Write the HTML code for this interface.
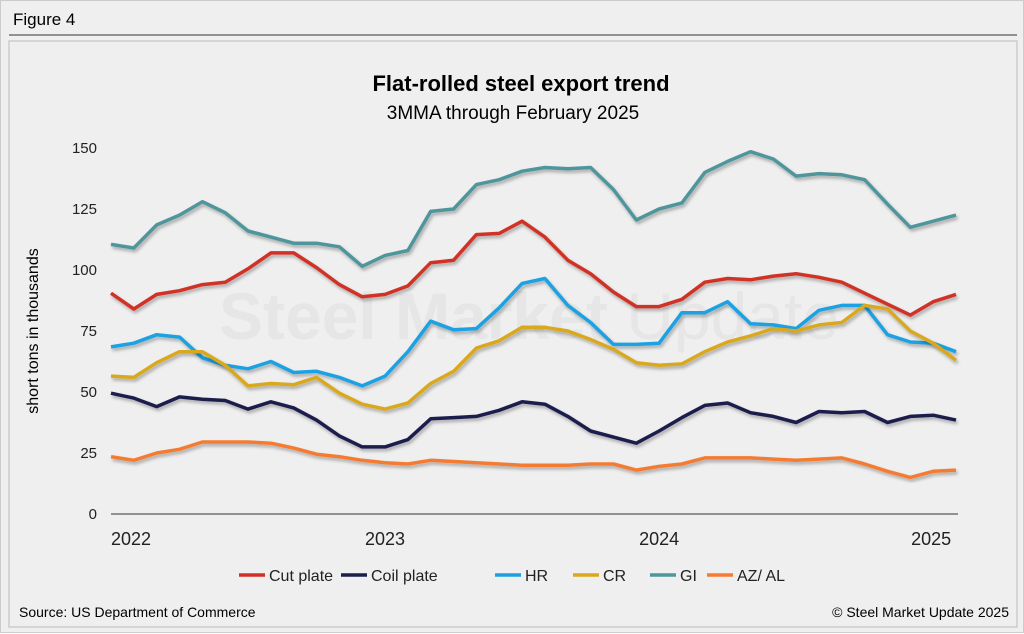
<!DOCTYPE html>
<html><head><meta charset="utf-8"><style>
body{margin:0;width:1024px;height:633px;background:#fff;font-family:"Liberation Sans",Arial,sans-serif;overflow:hidden}
#wrap{position:absolute;left:0;top:0;width:1022px;height:631px;border:1px solid #ccc;background:#efefef}
</style></head><body>
<div id="wrap">
<svg width="1024" height="633" style="position:absolute;left:0;top:0">
<defs><filter id="sh" x="-5%" y="-5%" width="110%" height="120%"><feDropShadow dx="1.5" dy="2.5" stdDeviation="1.5" flood-color="#000" flood-opacity="0.3"/></filter></defs>
<text x="12" y="24" font-size="17" fill="#000">Figure 4</text>
<line x1="8" y1="34" x2="1016" y2="34" stroke="#333" stroke-width="1"/>
<rect x="8" y="40" width="1008" height="586" fill="none" stroke="#bbb"/>
<text x="520" y="90" text-anchor="middle" font-size="22" font-weight="bold">Flat-rolled steel export trend</text>
<text x="512" y="118" text-anchor="middle" font-size="19">3MMA through February 2025</text>
<text x="218" y="338" font-size="66" fill="#e6e6e6"><tspan font-weight="bold">Steel Market</tspan> Update</text>
<text transform="translate(37,330) rotate(-90)" text-anchor="middle" font-size="16">short tons in thousands</text>
<g id="yt"></g><g id="xt"></g><g id="series"></g>
<line x1="110" y1="513" x2="957" y2="513" stroke="#333" stroke-width="1"/>
<g id="legend"></g>
<text x="18" y="616" font-size="14">Source: US Department of Commerce</text>
<text x="1008" y="616" text-anchor="end" font-size="14">© Steel Market Update 2025</text>
</svg></div>
<script>
const yTicks=[0,25,50,75,100,125,150];
const xLabels=["2022","2023","2024","2025"];
const seriesNames=["Cut plate","Coil plate","HR","CR","GI","AZ/ AL"];
const seriesColors=["#d03027","#1a1f4d","#1ba1e2","#d9a81c","#4f969c","#f47b30"];
const cutPlate=[90.5,84,90,91.5,94,95,100.5,107,107,101,94,89,90,93.5,103,104,114.5,115,120,113.5,104,98.5,91,85,85,88,95,96.5,96,97.5,98.5,97,95,90.5,86,81.5,87,90];
const coilPlate=[49.5,47.5,44,48,47,46.5,43,46,43.5,38.5,32,27.5,27.5,30.5,39,39.5,40,42.5,46,45,40,34,31.5,29,34,39.5,44.5,45.5,41.5,40,37.5,42,41.5,42,37.5,40,40.5,38.5];
const hr=[68.5,70,73.5,72.5,64,61,59.5,62.5,58,58.5,56,52.5,56.5,66.5,79,75.5,76,84.5,94.5,96.5,85.5,78.5,69.5,69.5,70,82.5,82.5,87,78,77.5,76,83.5,85.5,85.5,73.5,70.5,70,66.5];
const cr=[56.5,56,62,66.5,66.5,61,52.5,53.5,53,56,49.5,45,43,45.5,53.5,58.5,68,71,76.5,76.5,75,71.5,67.5,62,61,61.5,66.5,70.5,73,76,75,77.5,78.5,85.5,84,75,70,63];
const gi=[110.5,109,118.5,122.5,128,123.5,116,113.5,111,111,109.5,101.5,106,108,124,125,135,137,140.5,142,141.5,142,133,120.5,125,127.5,140,144.5,148.5,145.5,138.5,139.5,139,137,127,117.5,120,122.5];
const azal=[23.5,22,25,26.5,29.5,29.5,29.5,29,27,24.5,23.5,22,21,20.5,22,21.5,21,20.5,20,20,20,20.5,20.5,18,19.5,20.5,23,23,23,22.5,22,22.5,23,20.5,17.5,15,17.5,18];
const NS="http://www.w3.org/2000/svg";
const X=i=>110+i*(845/37), Y=v=>513-v*2.44;
const mk=(t,a,p)=>{const e=document.createElementNS(NS,t);for(const k in a)e.setAttribute(k,a[k]);p.appendChild(e);return e;};
const yt=document.getElementById('yt');
yTicks.forEach(v=>{const t=mk('text',{x:96,y:Y(v)+5,'text-anchor':'end','font-size':15,fill:'#222'},yt);t.textContent=v;

});
const xt=document.getElementById('xt');
xLabels.forEach((s,k)=>{const i=k*12;const t=mk('text',{x:X(i)+(k==3?-2:0),y:544,'text-anchor':k==0?'start':'middle','font-size':18,fill:'#222'},xt);t.textContent=s;

});
const data=[cutPlate,coilPlate,hr,cr,gi,azal];
const sg=document.getElementById('series');
[4,0,2,3,1,5].forEach(s=>{const pts=data[s].map((v,i)=>X(i).toFixed(1)+','+Y(v).toFixed(1)).join(' ');
const l=mk('polyline',{points:pts,fill:'none',stroke:seriesColors[s],'stroke-width':3.5,'stroke-linejoin':'round',filter:'url(#sh)'},sg);

});
const lg=document.getElementById('legend');
const lx=[238,340,494,572,649,706];
seriesNames.forEach((n,s)=>{const g=mk('g',{},lg);


mk('line',{x1:lx[s],y1:574,x2:lx[s]+26,y2:574,stroke:seriesColors[s],'stroke-width':3.5},g);
const t=mk('text',{x:lx[s]+30,y:580,'font-size':16,fill:'#222'},g);t.textContent=n;});
</script>
</body></html>
